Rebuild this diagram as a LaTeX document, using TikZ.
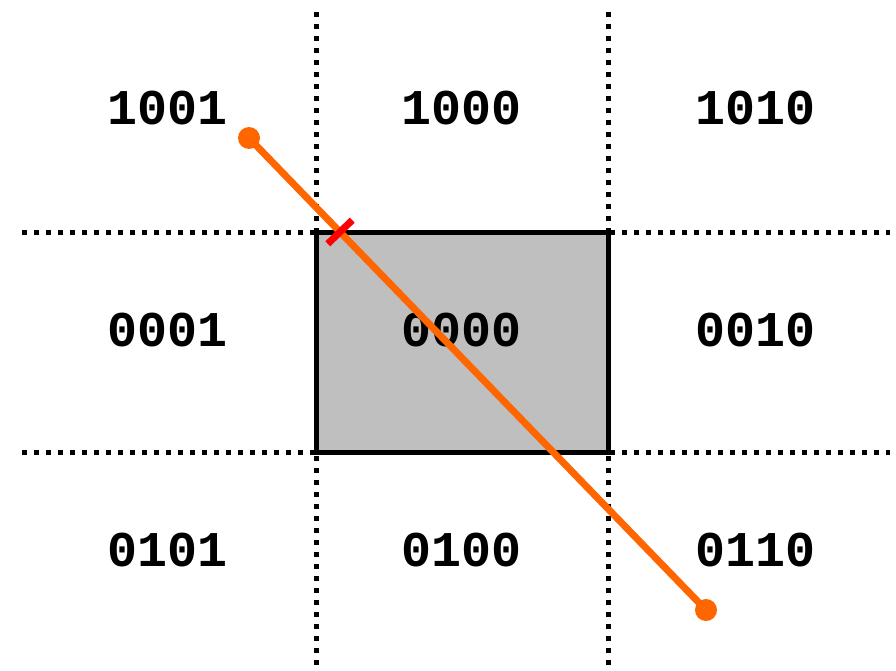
\documentclass[tikz,border=0pt]{standalone}
\usepackage{fontspec}
\newfontfamily\codefont{Liberation Mono}
\usepackage{xcolor}
\usetikzlibrary{calc}
\definecolor{segorange}{HTML}{FF6600}

\begin{document}
\begin{tikzpicture}[
  x=1pt,y=-1pt,
  grid/.style={line width=5pt,dash pattern=on 5pt off 7pt},
  code/.style={font=\codefont\bfseries\fontsize{50}{54}\selectfont},
  window/.style={draw,line width=5pt,fill=black!25},
  segment/.style={segorange,line width=7pt},
  endpt/.style={circle,fill=segorange,inner sep=0pt,minimum size=22pt}
]
\useasboundingbox (0,0) rectangle (896,671);
% region borders
\draw[grid] (316,12) -- (316,671);
\draw[grid] (608,12) -- (608,671);
\draw[grid] (22,232) -- (890,232);
\draw[grid] (22,452) -- (890,452);
% clipping window
\draw[window] (316,232) rectangle (608,452);
% region codes
\node[code] (tl) at (168,108) {1001};
\node[code] (tc) at (462,108) {1000};
\node[code] (tr) at (755,108) {1010};
\node[code] (ml) at (168,330) {0001};
\node[code] (mc) at (462,330) {0000};
\node[code] (mr) at (755,330) {0010};
\node[code] (bl) at (168,550) {0101};
\node[code] (bc) at (462,550) {0100};
\node[code] (br) at (755,550) {0110};
% line segment
\node[endpt] (p) at (249,138) {};
\node[endpt] (q) at (706,610) {};
\draw[segment] (p.center) -- (q.center);
% intersection with top edge
\coordinate (hit) at (340,232);
\draw[red,line width=7pt] ($(hit)!17pt!-90:(q)$) -- ($(hit)!17pt!90:(q)$);
\end{tikzpicture}
\end{document}
